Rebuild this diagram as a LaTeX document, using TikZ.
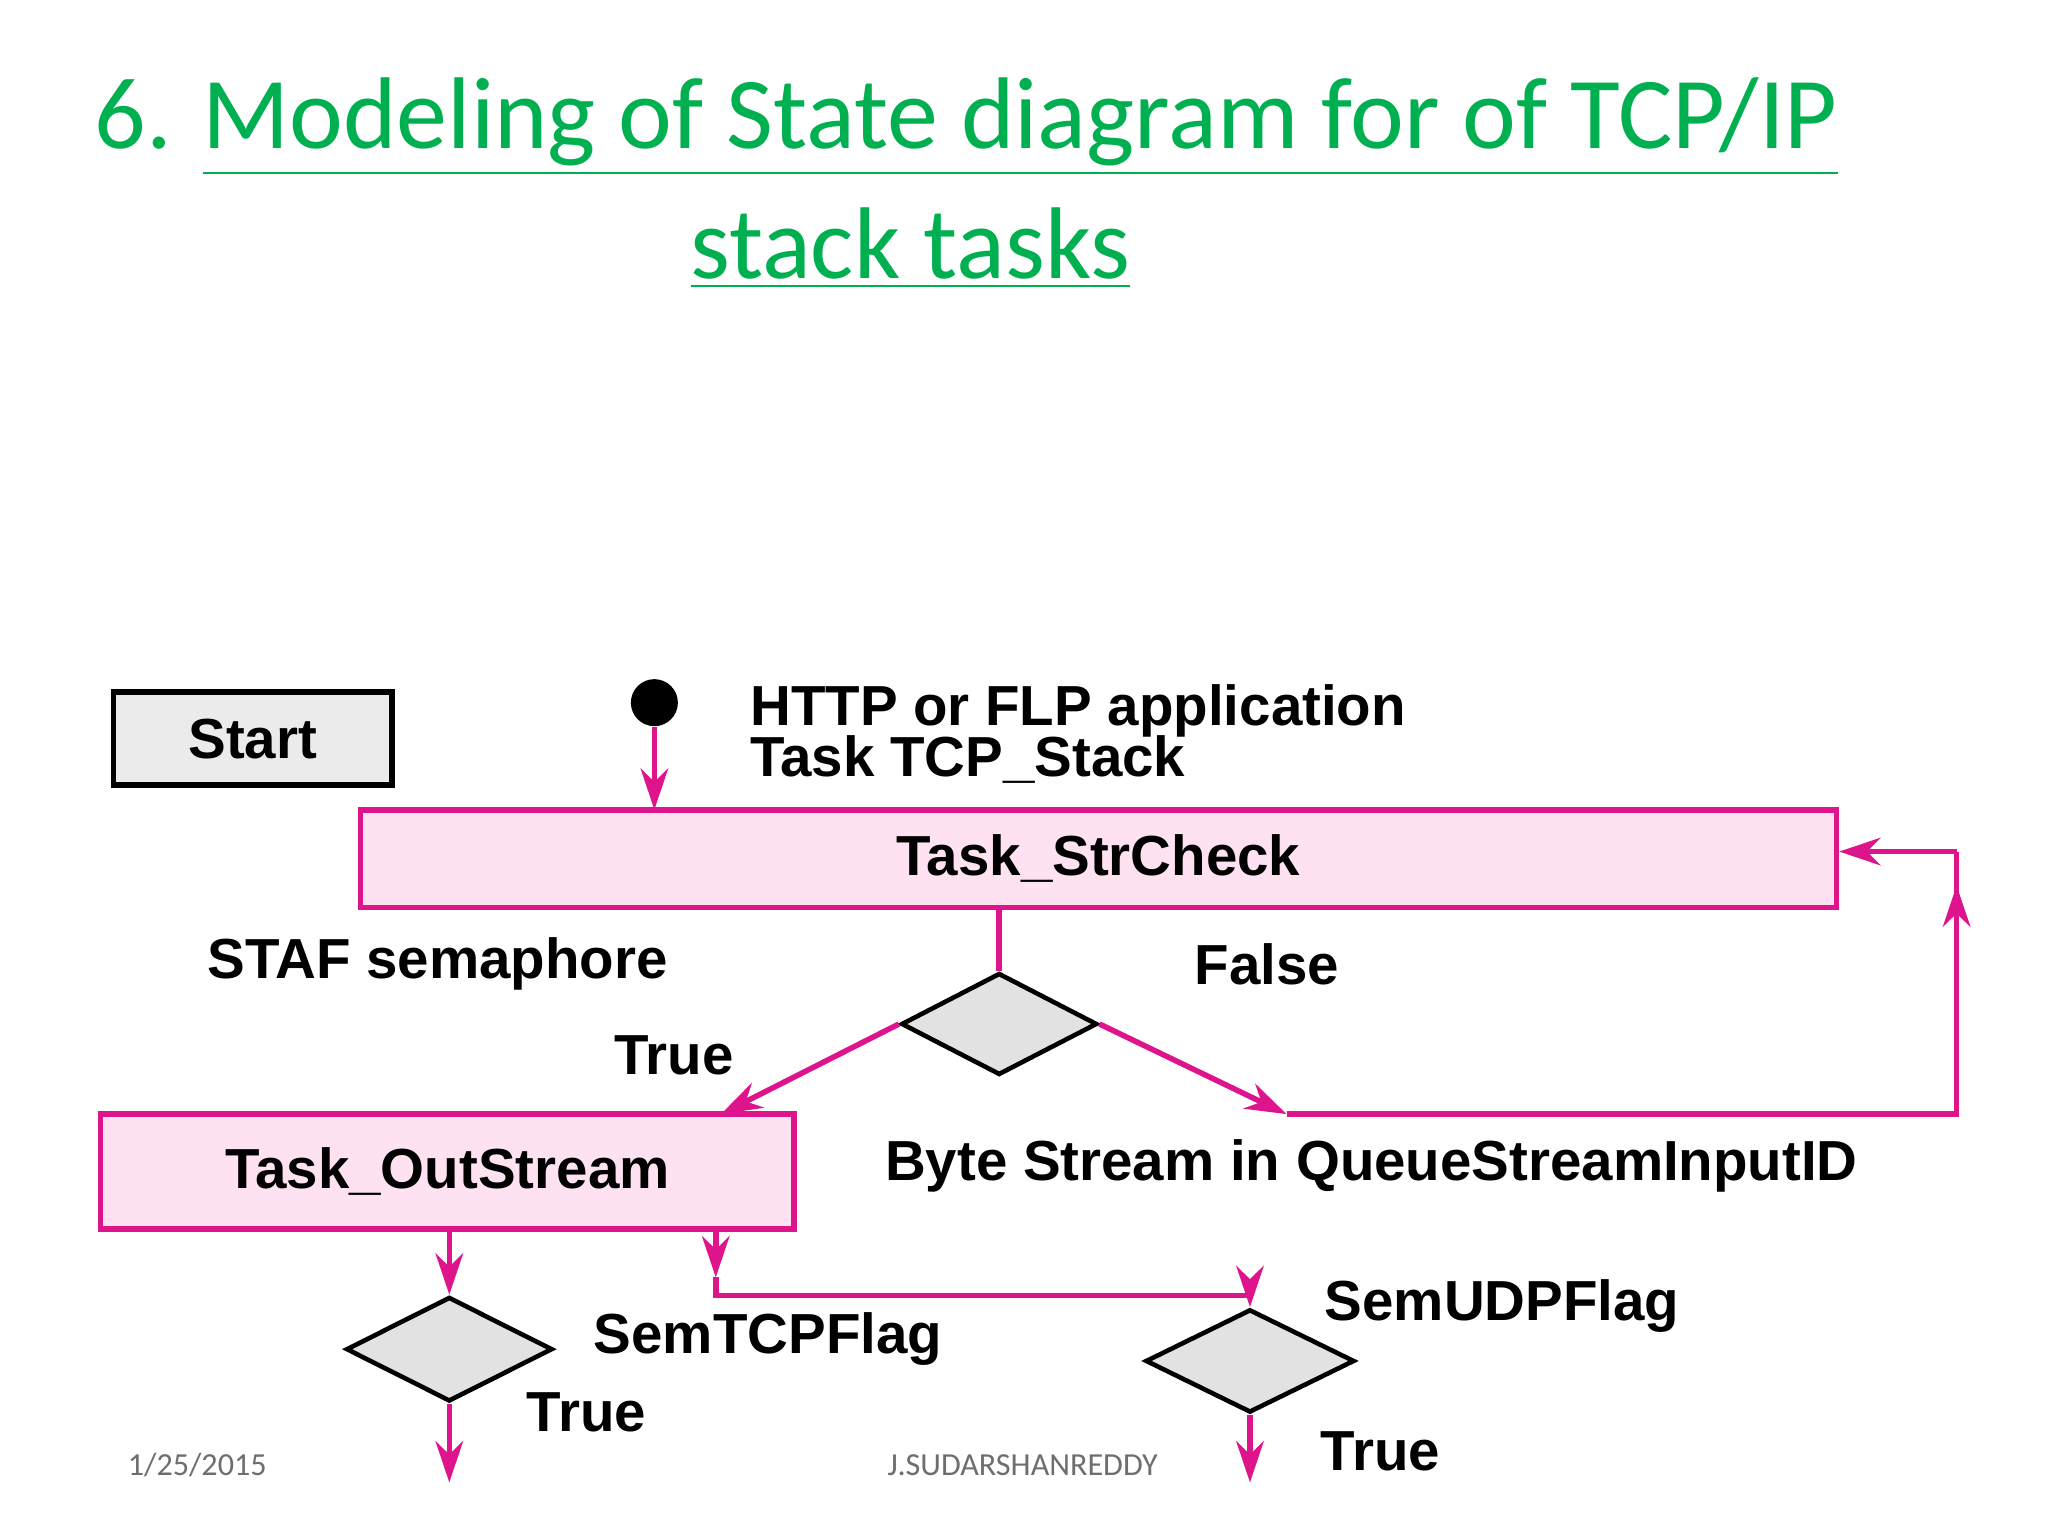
\documentclass[tikz,border=0pt]{standalone}
\usepackage{fontspec}
\setmainfont{Liberation Sans}
\newfontfamily\titlefont{Carlito}
\usetikzlibrary{arrows.meta,positioning,shapes.geometric}
\definecolor{titlegreen}{RGB}{0,176,80}
\definecolor{flowpink}{RGB}{222,20,140}
\definecolor{boxpink}{RGB}{255,226,242}
\definecolor{diagray}{RGB}{226,226,226}
\definecolor{footgray}{RGB}{110,110,110}

\begin{document}
\begin{tikzpicture}[
  task/.style={draw=flowpink, line width=1.2pt, fill=boxpink, inner sep=0pt, font=\bfseries\fontsize{12.3}{14}\selectfont},
  decide/.style={diamond, draw=black, line width=1pt, fill=diagray, inner sep=0pt},
  lbl/.style={font=\bfseries\fontsize{12.3}{14}\selectfont},
  flow/.style={draw=flowpink, line width=1.2pt, -{Stealth[length=9pt,width=6pt]}},
  plain/.style={draw=flowpink, line width=1.2pt}]
\useasboundingbox (0,0) rectangle (15.68,11.76);

% title
\node[text=titlegreen, font=\titlefont\fontsize{22.2}{26}\selectfont, anchor=west] (t1) at (0.60,10.79) {6. \underline{Modeling of State diagram for of TCP/IP}};
\node[text=titlegreen, font=\titlefont\fontsize{22.2}{26}\selectfont] (t2) at (6.97,9.86) {\underline{stack tasks}};

% start and entry
\node[draw, line width=1.2pt, fill=diagray!70, minimum width=2.13cm, minimum height=0.71cm, font=\bfseries\fontsize{12.3}{14}\selectfont] (start) at (1.935,6.105) {Start};
\node[circle, fill=black, minimum size=0.36cm, inner sep=0pt] (dot) at (5.01,6.38) {};
\node[lbl, anchor=west, align=left] (app) at (5.62,6.14) {HTTP or FLP application\\[-3pt]Task TCP\_Stack};

% tasks and decisions
\node[task, minimum width=11.30cm, minimum height=0.75cm] (strcheck) at (8.41,5.185) {Task\_StrCheck};
\node[decide, minimum width=1.5cm, minimum height=0.78cm] (d1) at (7.65,3.92) {};
\node[task, minimum width=5.31cm, minimum height=0.88cm] (outstream) at (3.425,2.79) {Task\_OutStream};
\node[decide, minimum width=1.58cm, minimum height=0.8cm] (d2) at (3.44,1.43) {};
\node[decide, minimum width=1.6cm, minimum height=0.79cm] (d3) at (9.57,1.34) {};

\node[lbl] (staf) at (3.35,4.38) {STAF semaphore};
\node[lbl] (false) at (9.70,4.38) {False};
\node[lbl] (true1) at (5.16,3.68) {True};
\node[lbl] (byte) at (10.50,2.83) {Byte Stream in QueueStreamInputID};
\node[lbl] (tcpf) at (5.88,1.51) {SemTCPFlag};
\node[lbl] (true2) at (4.49,0.95) {True};
\node[lbl] (udpf) at (11.50,1.76) {SemUDPFlag};
\node[lbl] (true3) at (10.57,0.65) {True};

\coordinate (in) at (5.01,5.56);
\coordinate (outin) at (5.52,3.23);
\coordinate (fal) at (9.85,3.23);
\coordinate (rb) at (14.98,3.23);
\coordinate (rt) at (14.98,5.24);
\coordinate (up) at (14.98,4.98);
\coordinate (o1) at (3.44,2.35);
\coordinate (o2) at (5.48,2.35);
\coordinate (b1) at (5.48,1.84);
\coordinate (b2) at (9.57,1.84);
\coordinate (e2) at (3.44,0.41);
\coordinate (e3) at (9.57,0.41);

% connectors
\draw[flow] (dot) -- (in);
\draw[plain] (strcheck.south -| d1) -- (d1.north);
\draw[flow] (d1.west) -- (outin);
\draw[flow] (d1.east) -- (fal);
\draw[plain] (fal) -- (rb) -- (rt);
\draw[flow] (rb) -- (up);
\draw[flow] (rt) -- (strcheck.east |- rt);
\draw[flow] (o1) -- (d2.north);
\draw[flow] (o2) -- (5.48,1.98);
\draw[plain] (5.48,1.98) -- (b1) -- (b2);
\draw[flow] (b2) -- (d3.north);
\draw[flow] (d2.south) -- (e2);
\draw[flow] (d3.south) -- (e3);

% footer
\node[text=footgray, font=\titlefont\fontsize{7}{8}\selectfont] (date) at (1.51,0.54) {1/25/2015};
\node[text=footgray, font=\titlefont\fontsize{7}{8}\selectfont] (auth) at (7.83,0.54) {J.SUDARSHANREDDY};
\end{tikzpicture}
\end{document}
